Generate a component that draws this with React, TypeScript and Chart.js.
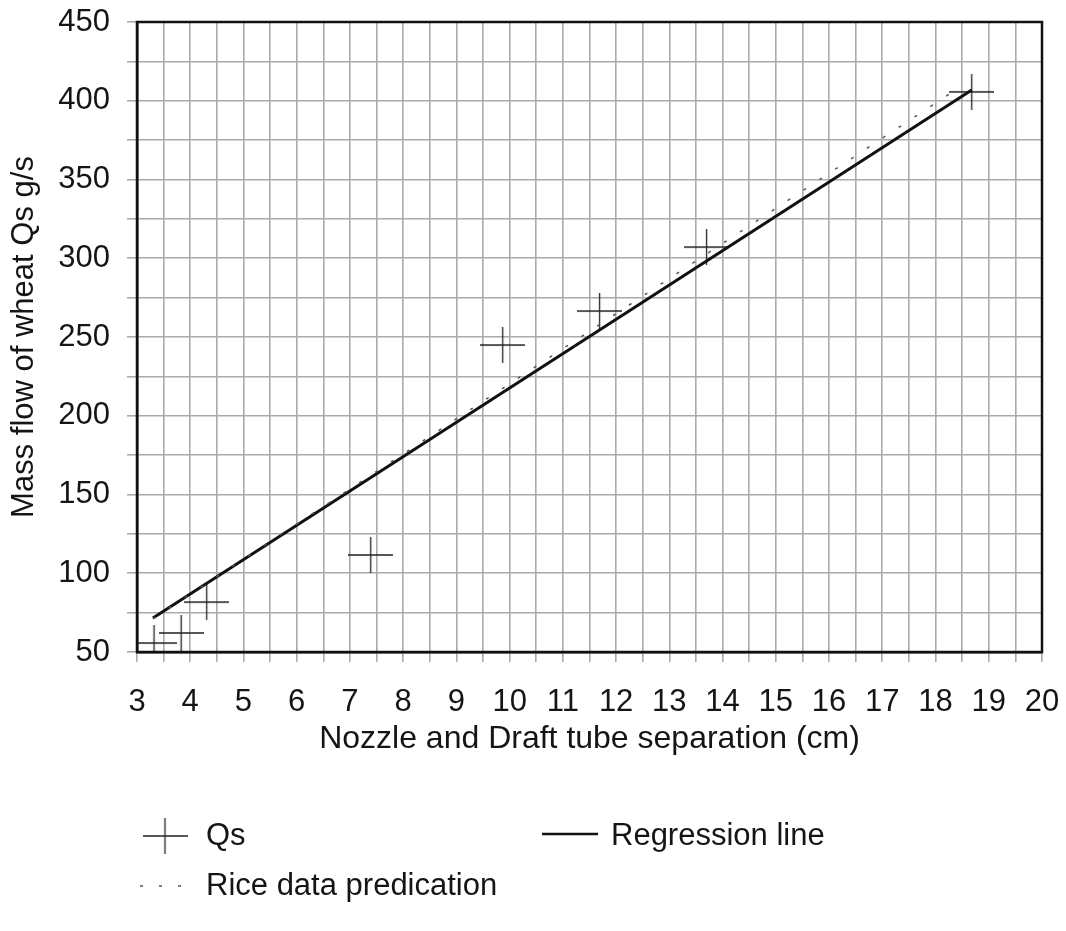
import React, { useEffect, useRef } from "react";
import { Chart, registerables } from "chart.js";

Chart.register(...registerables);

// Measured Qs points (x: separation cm, y: mass flow g/s)
const qsX = [3.32, 3.83, 4.31, 7.39, 9.87, 11.69, 13.7, 18.68];
const qsY = [55.7, 62.1, 81.7, 111.6, 244.9, 266.5, 307.1, 405.6];

// Regression line end points
const regX = [3.3, 18.68];
const regY = [71.6, 406.8];

// Rice data prediction end points
const riceX = [3.3, 18.49];
const riceY = [71.1, 409.4];

const xTickMin = 3;
const xTickMax = 20;
const yTickMin = 50;
const yTickMax = 450;

const FONT = '"Liberation Sans", Arial, sans-serif';
const TEXT = "#151515";
const FS = 31;

function makeCross(): HTMLCanvasElement {
  const c = document.createElement("canvas");
  c.width = 45;
  c.height = 36;
  const ctx = c.getContext("2d")!;
  ctx.strokeStyle = "#222";
  ctx.lineWidth = 1.3;
  ctx.beginPath();
  ctx.moveTo(0, 18);
  ctx.lineTo(45, 18);
  ctx.moveTo(22.5, 0);
  ctx.lineTo(22.5, 36);
  ctx.stroke();
  return c;
}

export default function App() {
  const ref = useRef<HTMLCanvasElement | null>(null);

  useEffect(() => {
    if (!ref.current) return;
    const cross = makeCross();

    const framePlugin = {
      id: "frameAndLegend",
      afterDatasetsDraw(chart: any) {
        const { ctx, chartArea } = chart;
        ctx.save();
        ctx.strokeStyle = "#111";
        ctx.lineWidth = 2.5;
        ctx.strokeRect(chartArea.left, chartArea.top, chartArea.right - chartArea.left, chartArea.bottom - chartArea.top);
        ctx.restore();
      },
      afterDraw(chart: any) {
        const { ctx } = chart;
        ctx.save();
        ctx.font = `${FS}px ${FONT}`;
        ctx.fillStyle = TEXT;
        ctx.textBaseline = "middle";
        ctx.textAlign = "left";
        // Qs
        ctx.drawImage(cross, 165 - 22.5, 836 - 18);
        ctx.fillText("Qs", 206, 836);
        // Regression line
        ctx.strokeStyle = "#111";
        ctx.lineWidth = 2.5;
        ctx.beginPath();
        ctx.moveTo(542, 834);
        ctx.lineTo(598, 834);
        ctx.stroke();
        ctx.fillText("Regression line", 611, 836);
        // Rice
        ctx.strokeStyle = "#555";
        ctx.lineWidth = 1.5;
        ctx.setLineDash([3, 16]);
        ctx.beginPath();
        ctx.moveTo(140, 886);
        ctx.lineTo(190, 886);
        ctx.stroke();
        ctx.setLineDash([]);
        ctx.fillText("Rice data predication", 206, 886);
        ctx.restore();
      },
    };

    const chart = new Chart(ref.current, {
      type: "scatter",
      data: {
        datasets: [
          {
            label: "Rice data predication",
            type: "line",
            data: riceX.map((x, i) => ({ x, y: riceY[i] })),
            borderColor: "#555",
            borderWidth: 1.5,
            borderDash: [3, 16],
            pointRadius: 0,
            tension: 0,
            fill: false,
          },
          {
            label: "Regression line",
            type: "line",
            data: regX.map((x, i) => ({ x, y: regY[i] })),
            borderColor: "#111",
            borderWidth: 3,
            pointRadius: 0,
            tension: 0,
            fill: false,
          },
          {
            label: "Qs",
            data: qsX.map((x, i) => ({ x, y: qsY[i] })),
            pointStyle: cross as any,
            pointRadius: 20,
            borderColor: "#222",
          },
        ],
      },
      options: {
        animation: false,
        responsive: true,
        maintainAspectRatio: false,
        layout: { padding: { top: 22, right: 24, bottom: 169, left: 0 } },
        plugins: {
          legend: { display: false },
          tooltip: { enabled: false },
        },
        scales: {
          x: {
            type: "linear",
            min: xTickMin,
            max: xTickMax,
            afterFit: (s: any) => {
              s.height = 110;
              s.paddingLeft = 0;
              s.paddingRight = 0;
            },
            ticks: {
              stepSize: 0.5,
              autoSkip: false,
              maxRotation: 0,
              padding: 22,
              color: TEXT,
              font: { size: FS, family: FONT },
              callback: (v: any) => (Number.isInteger(v) ? String(v) : ""),
            },
            grid: { color: "#aaaaaa", lineWidth: 1.6, tickLength: 10 },
            border: { display: true, color: "#111", width: 2.5 },
            title: {
              display: true,
              text: "Nozzle and Draft tube separation (cm)",
              color: TEXT,
              font: { size: 32, family: FONT },
              padding: { top: 0, bottom: 4 },
            },
          },
          y: {
            type: "linear",
            min: yTickMin,
            max: yTickMax,
            afterFit: (s: any) => {
              s.width = 137;
              s.paddingTop = 0;
              s.paddingBottom = 0;
            },
            ticks: {
              stepSize: 25,
              autoSkip: false,
              padding: 17,
              color: TEXT,
              font: { size: FS, family: FONT },
              callback: (v: any) => (v % 50 === 0 ? String(v) : ""),
            },
            grid: { color: "#aaaaaa", lineWidth: 1.6, tickLength: 10 },
            border: { display: true, color: "#111", width: 2.5 },
            title: {
              display: true,
              text: "Mass flow of wheat Qs g/s",
              color: TEXT,
              font: { size: FS, family: FONT },
              padding: { top: 6, bottom: 0 },
            },
          },
        },
      },
      plugins: [framePlugin],
    } as any);

    return () => chart.destroy();
  }, []);

  return (
    <div style={{ position: "fixed", left: 0, top: 0, width: 1066, height: 931, background: "#fff" }}>
      <canvas ref={ref} />
    </div>
  );
}
